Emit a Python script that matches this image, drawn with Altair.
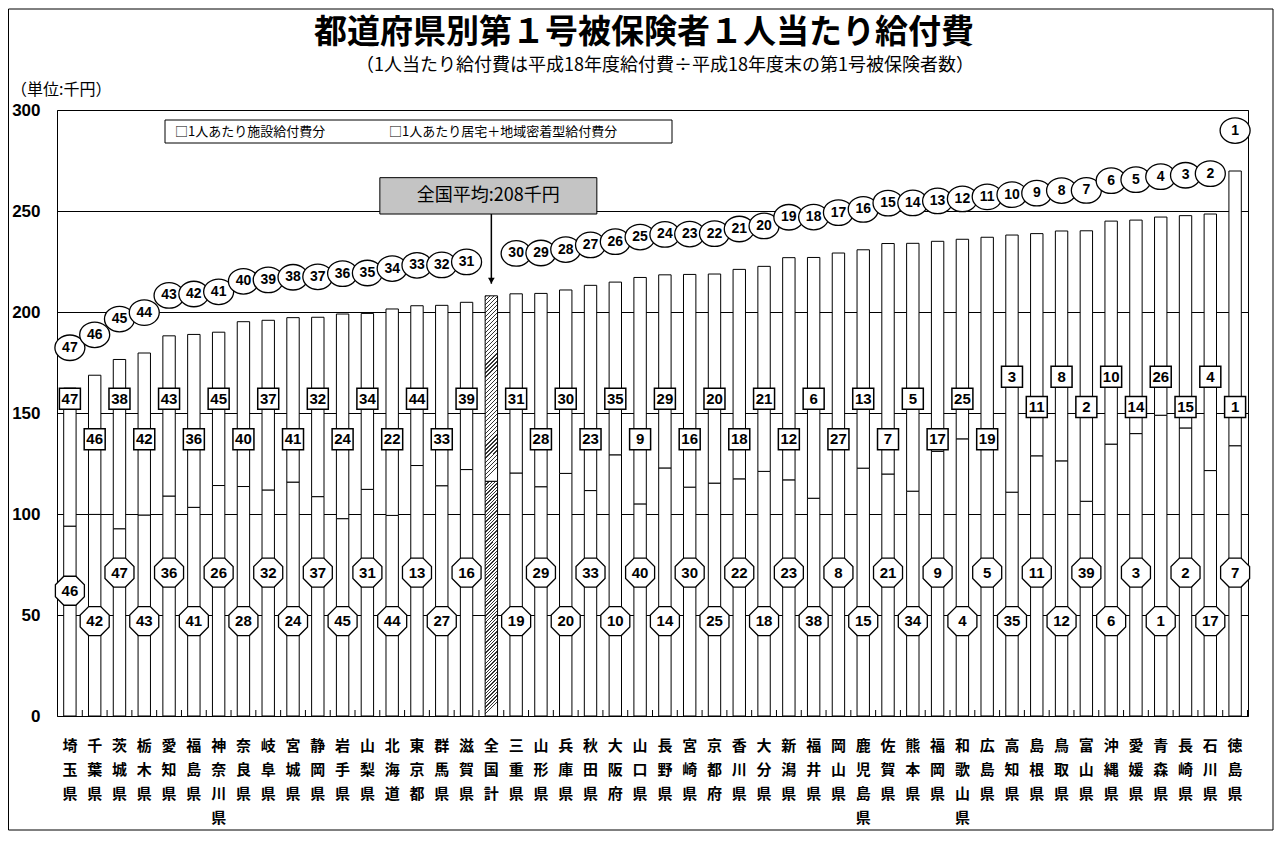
import altair as alt
import pandas as pd

names = ["埼玉県", "千葉県", "茨城県", "栃木県", "愛知県", "福島県", "神奈川県", "奈良県",
         "岐阜県", "宮城県", "静岡県", "岩手県", "山梨県", "北海道", "東京都", "群馬県",
         "滋賀県", "全国計", "三重県", "山形県", "兵庫県", "秋田県", "大阪府", "山口県",
         "長野県", "宮崎県", "京都府", "香川県", "大分県", "新潟県", "福井県", "岡山県",
         "鹿児島県", "佐賀県", "熊本県", "福岡県", "和歌山県", "広島県", "高知県", "島根県",
         "鳥取県", "富山県", "沖縄県", "愛媛県", "青森県", "長崎県", "石川県", "徳島県"]

# 1人あたり施設給付費分 (千円)
facility = [94.0, 99.8, 92.7, 99.5, 108.9, 103.3, 114.1, 113.6, 111.9, 115.8, 108.6, 97.7,
            112.2, 99.3, 124.0, 114.0, 122.0, 116.2, 120.3, 113.5, 120.1, 111.6, 129.3, 105.0,
            122.8, 113.3, 115.3, 117.4, 121.1, 116.9, 107.8, 132.7, 122.7, 119.8, 111.3, 131.0,
            137.2, 136.0, 110.8, 128.8, 126.3, 106.3, 134.6, 139.8, 148.9, 142.6, 121.5, 133.8]

# 1人あたり居宅＋地域密着型給付費分 (千円)
home = [68.3, 68.9, 83.8, 80.2, 79.3, 85.6, 75.9, 81.6, 84.0, 81.4, 88.8, 101.3,
        87.1, 102.2, 79.1, 89.3, 82.8, 91.8, 88.7, 95.7, 90.8, 101.6, 85.5, 112.1,
        95.6, 105.3, 103.5, 103.7, 101.5, 110.0, 119.2, 96.5, 108.1, 114.1, 122.7, 104.0,
        98.8, 101.0, 127.3, 110.0, 113.8, 133.9, 110.4, 105.7, 98.1, 105.1, 127.0, 136.0]

# 順位 (合計 / 居宅 / 施設)
total_rank = [47, 46, 45, 44, 43, 42, 41, 40, 39, 38, 37, 36, 35, 34, 33, 32, 31, None,
              30, 29, 28, 27, 26, 25, 24, 23, 22, 21, 20, 19, 18, 17, 16, 15, 14, 13,
              12, 11, 10, 9, 8, 7, 6, 5, 4, 3, 2, 1]
home_rank = [47, 46, 38, 42, 43, 36, 45, 40, 37, 41, 32, 24, 34, 22, 44, 33, 39, None,
             31, 28, 30, 23, 35, 9, 29, 16, 20, 18, 21, 12, 6, 27, 13, 7, 5, 17,
             25, 19, 3, 11, 8, 2, 10, 14, 26, 15, 4, 1]
facility_rank = [46, 42, 47, 43, 36, 41, 26, 28, 32, 24, 37, 45, 31, 44, 13, 27, 16, None,
                 19, 29, 20, 33, 10, 40, 14, 30, 25, 22, 18, 23, 38, 8, 15, 21, 34, 9,
                 4, 5, 35, 11, 12, 39, 6, 3, 1, 2, 17, 7]

title_text = "都道府県別第１号被保険者１人当たり給付費"
subtitle_text = "（1人当たり給付費は平成18年度給付費÷平成18年度末の第1号被保険者数）"
unit_text = "（単位:千円）"
legend_labels = ["□1人あたり施設給付費分", "□1人あたり居宅＋地域密着型給付費分"]
avg_text = "全国平均:208千円"
y_ticks = [0, 50, 100, 150, 200, 250, 300]

FONT_JP = "Noto Sans CJK JP"
FONT_NUM = "Liberation Sans Narrow, Liberation Sans, sans-serif"

df = pd.DataFrame({
    "name": names,
    "facility": facility,
    "home": home,
    "trank": total_rank,
    "hrank": home_rank,
    "frank": facility_rank,
    "idx": list(range(len(names))),
})

W, H = 1191, 606

xscale = alt.Scale(domain=names, paddingInner=0.5, paddingOuter=0.27)
xaxis = alt.Axis(title=None, labelAngle=0, labelExpr="split(datum.label, '')",
                 labelFont=FONT_JP, labelFontWeight="bold", labelFontSize=15,
                 labelLineHeight=24, labelPadding=22, ticks=False, domain=False,
                 labelColor="black", labelBaseline="top")
yscale = alt.Scale(domain=[0, 300], nice=False, zero=True)
yaxis = alt.Axis(title=None, values=y_ticks, grid=True, gridColor="black", gridWidth=1,
                 gridOpacity=1, ticks=False, domain=False, labelFont=FONT_NUM,
                 labelFontSize=17, labelFontWeight="bold", labelPadding=17,
                 labelColor="black")


def X():
    return alt.X("name:N", sort=names, scale=xscale, axis=xaxis)


def Y(field):
    return alt.Y(f"{field}:Q", scale=yscale, axis=yaxis)


def stripes(n, frac=0.35, dark="#333333"):
    stops = []
    for k in range(n):
        a = k / n
        b = (k + frac) / n
        c = (k + 1) / n
        stops += [{"offset": a, "color": dark}, {"offset": b, "color": dark},
                  {"offset": b, "color": "white"}, {"offset": c, "color": "white"}]
    return stops


grad_lower = {"gradient": "linear", "x1": 0, "y1": 0, "x2": 0.053, "y2": 1,
              "stops": stripes(70, 0.4)}
grad_upper = {"gradient": "linear", "x1": 0, "y1": 0, "x2": 0.067, "y2": 1,
              "stops": stripes(46, 0.3)}

base = alt.Chart(df).transform_calculate(
    total="datum.facility + datum.home",
    cy="datum.facility + datum.home + 20",
    by="datum.idx < 38 ? (datum.idx % 2 == 0 ? 157 : 137) : (datum.idx % 2 == 0 ? 168 : 153)",
    oy="datum.idx == 0 ? 62 : ((datum.idx < 17) == (datum.idx % 2 == 0) ? 71 : 47)",
    ay1="datum.facility + datum.home + 40.5",
    ay2="datum.facility + datum.home + 6",
    ah="datum.facility + datum.home + 7.5",
    ab1="datum.facility + datum.home + 40.5",
    ab2="datum.facility + datum.home + 58.5",
    at="datum.facility + datum.home + 49.5",
)

prefs = base.transform_filter("datum.name != '全国計'")
nat = base.transform_filter("datum.name == '全国計'")
ranked = base.transform_filter("isValid(datum.trank)")

lower = prefs.mark_bar(fill="white", stroke="black", strokeWidth=1).encode(
    x=X(), y=Y("facility"))
upper = prefs.mark_bar(fill="white", stroke="black", strokeWidth=1).encode(
    x=X(), y=Y("facility"), y2="total:Q")
nat_lower = nat.mark_bar(fill=grad_lower, stroke="black", strokeWidth=1).encode(
    x=X(), y=Y("facility"))
nat_upper = nat.mark_bar(fill=grad_upper, stroke="black", strokeWidth=1).encode(
    x=X(), y=Y("facility"), y2="total:Q")

band_ticks = base.mark_rule(stroke="black", strokeWidth=1, xOffset=12.4).encode(
    x=X(), y=alt.value(H), y2=alt.value(H - 6))

ELLIPSE = "M -1 0 A 1 0.85 0 1 1 1 0 A 1 0.85 0 1 1 -1 0 Z"
OCTAGON = ("M -0.414 -1 L 0.414 -1 L 1 -0.414 L 1 0.414 L 0.414 1 L -0.414 1 "
           "L -1 0.414 L -1 -0.414 Z")

circ = ranked.mark_point(shape=ELLIPSE, size=900, filled=True, fill="white",
                         stroke="black", strokeWidth=1.3, opacity=1).encode(
    x=X(), y=Y("cy"))
circ_t = ranked.mark_text(font=FONT_NUM, fontWeight="bold", fontSize=14,
                          color="black", baseline="middle").encode(
    x=X(), y=Y("cy"), text=alt.Text("trank:Q", format="d"))

box = ranked.mark_square(size=441, filled=True, fill="white", stroke="black",
                         strokeWidth=1.5, opacity=1).encode(x=X(), y=Y("by"))
box_t = ranked.mark_text(font=FONT_NUM, fontWeight="bold", fontSize=15,
                         color="black", baseline="middle").encode(
    x=X(), y=Y("by"), text=alt.Text("hrank:Q", format="d"))

octo = ranked.mark_point(shape=OCTAGON, size=841, filled=True, fill="white",
                         stroke="black", strokeWidth=1.3, opacity=1).encode(
    x=X(), y=Y("oy"))
octo_t = ranked.mark_text(font=FONT_NUM, fontWeight="bold", fontSize=15,
                          color="black", baseline="middle").encode(
    x=X(), y=Y("oy"), text=alt.Text("frank:Q", format="d"))

# 全国平均 annotation
ann_box = nat.mark_bar(width=217, xOffset=-3, fill="#c4c4c4", stroke="black",
                       strokeWidth=1).encode(x=X(), y=Y("ab1"), y2="ab2:Q")
ann_t = nat.mark_text(text=avg_text, font=FONT_JP, fontSize=18, color="black",
                      baseline="middle", dx=-3).encode(x=X(), y=Y("at"))
arrow = nat.mark_rule(stroke="black", strokeWidth=1.5).encode(
    x=X(), y=Y("ay1"), y2="ay2:Q")
arrow_h = nat.mark_point(shape="triangle-down", size=45, filled=True, color="black",
                         opacity=1).encode(x=X(), y=Y("ah"))

one = alt.Data(values=[{"k": 1}])


def txt(s, x, y, size, align="center", weight="normal"):
    return alt.Chart(one).mark_text(text=s, font=FONT_JP, fontSize=size, fontWeight=weight,
                                    color="black", align=align, baseline="middle").encode(
        x=alt.value(x), y=alt.value(y))


legend_rect = alt.Chart(one).mark_rect(fill="white", stroke="black", strokeWidth=1).encode(
    x=alt.value(108), x2=alt.value(615), y=alt.value(10), y2=alt.value(33))
legend_t1 = txt(legend_labels[0], 118, 21.5, 13, align="left")
legend_t2 = txt(legend_labels[1], 332, 21.5, 13, align="left")

title_t = txt(title_text, 587, -77, 33, weight="bold")
subtitle_t = txt(subtitle_text, 608, -44, 18)
unit_t = txt(unit_text, -46, -20, 16, align="left")

frame = alt.Chart(one).mark_rect(fill="transparent", stroke="black", strokeWidth=1).encode(
    x=alt.value(-48.5), x2=alt.value(1216), y=alt.value(-101), y2=alt.value(720))

chart = alt.layer(
    frame, lower, upper, nat_lower, nat_upper, band_ticks,
    circ, circ_t, box, box_t, octo, octo_t,
    arrow, arrow_h, ann_box, ann_t,
    legend_rect, legend_t1, legend_t2, title_t, subtitle_t, unit_t,
).properties(
    width=W, height=H, autosize="none",
    padding={"left": 49, "top": 102, "right": 26, "bottom": 115},
    background="white",
).configure_view(stroke="black", strokeWidth=1)

chart.save("out.html", embed_options={"renderer": "svg", "actions": False})
